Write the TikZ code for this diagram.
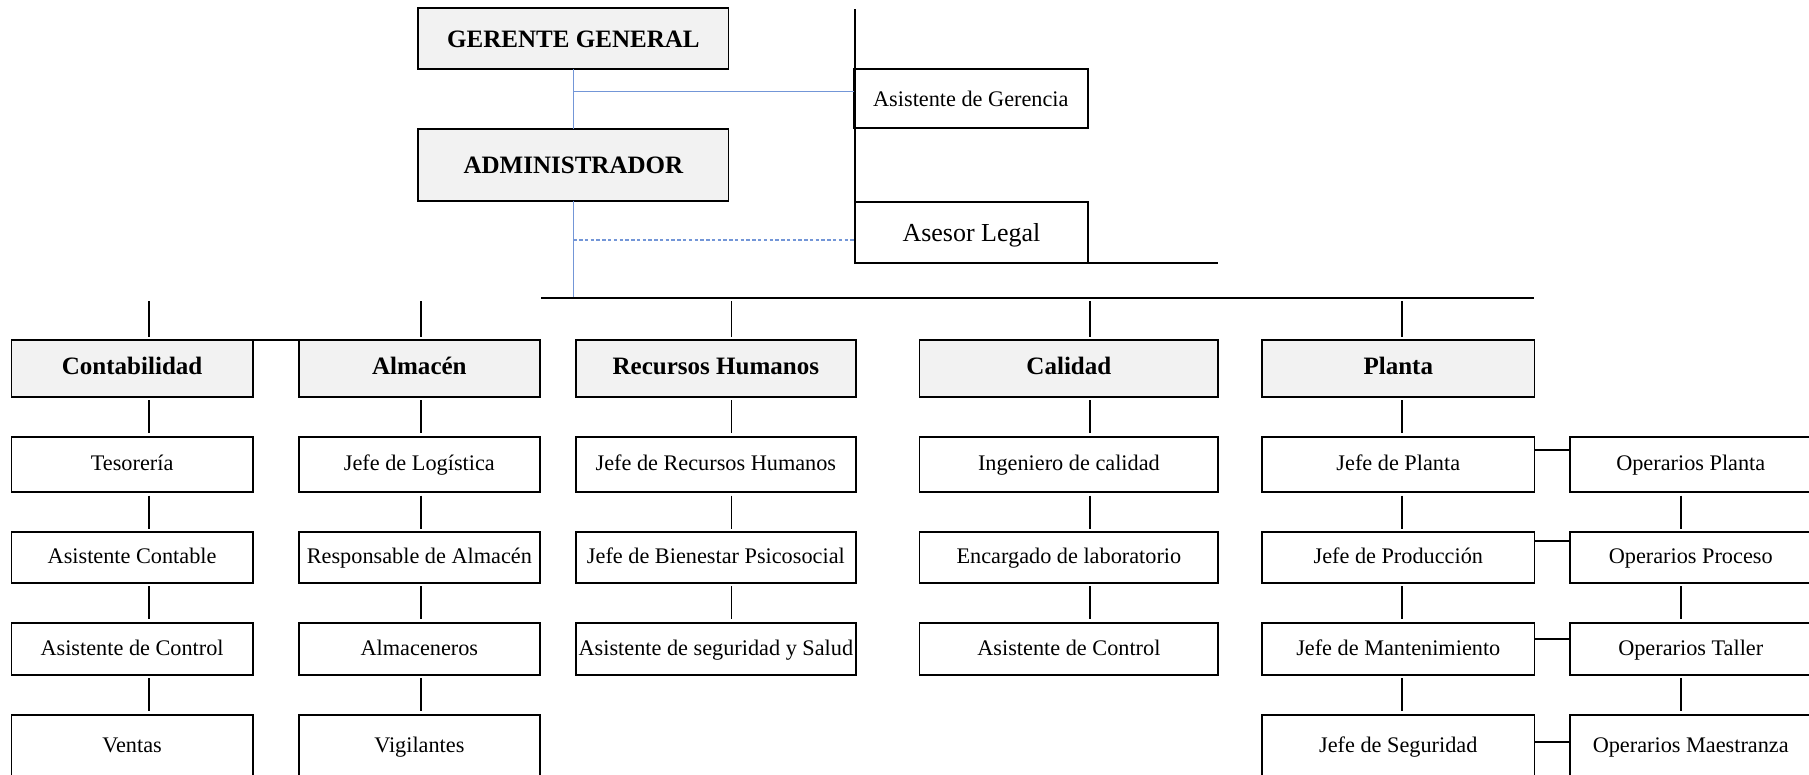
\documentclass[tikz,border=0pt]{standalone}
\usepackage{fontspec}
\setmainfont{Liberation Serif}
\usetikzlibrary{positioning, calc}
\definecolor{headColor}{RGB}{242,242,242}
\definecolor{linkColor}{RGB}{115,150,215}
\tikzset{unit/.style={draw, line width=1.6pt, inner sep=0pt, outer sep=0pt, minimum width=209, minimum height=46, text height=13pt, text depth=1.8pt, font=\fontsize{19.3}{23}\selectfont}}
\tikzset{head/.style={unit, fill=headColor, minimum height=49, text height=14.5pt, text depth=4.5pt, font=\fontsize{21.7}{26}\selectfont\bfseries}}
\tikzset{boss/.style={head, minimum width=269, text height=14.7pt, text depth=0pt}}
\tikzset{tick/.style={line width=1.6pt, shorten <=3pt, shorten >=3pt}}
\tikzset{side/.style={line width=1.6pt}}
\tikzset{link/.style={draw=linkColor, line width=1pt}}

\begin{document}
\begin{tikzpicture}[x=1pt, y=-1pt, node distance=34.6pt and 31pt]
	\useasboundingbox (0,0) rectangle (1568,671);
	\clip (0,0) rectangle (1568,671);
	% Nodes
		\node (gerente) [boss, minimum height=53] at (497,33.5) {GERENTE GENERAL};
		\node (admin) [boss, minimum height=62] at (497,143) {ADMINISTRADOR};
		\node (asistente) [unit, minimum width=203, minimum height=51, anchor=north west, text depth=0pt] at (740,60) {Asistente de Gerencia};
		\node (asesor) [unit, minimum width=202, minimum height=53, anchor=north west, text height=14.9pt, text depth=0pt, font=\fontsize{22.5}{27}\selectfont] at (741,175) {Asesor Legal};
		
		\coordinate (staffTop) at (741,8);
		\coordinate (staffEnd) at (1056,228);
		\coordinate (busLeft) at (469,258);
		\coordinate (busRight) at (1330,258);
		
		\node (conta) [head] at (114.5,319.5) {Contabilidad};
		\node (almacen) [head] at (363.5,319.5) {Almacén};
		\node (rrhh) [head, minimum width=243] at (620.5,319.5) {Recursos Humanos};
		\node (calidad) [head, minimum width=259] at (926.5,319.5) {Calidad};
		\node (planta) [head, minimum width=236] at (1212,319.5) {Planta};
		
		\node (tesoreria) [unit, below=of conta, minimum height=48] {Tesorería};
		\node (asiscont) [unit, below=of tesoreria, minimum height=44] {Asistente Contable};
		\node (asisctrl) [unit, below=of asiscont, minimum height=45] {Asistente de Control};
		\node (ventas) [unit, below=of asisctrl, minimum height=54] {Ventas};
		
		\node (logistica) [unit, below=of almacen, minimum height=48] {Jefe de Logística};
		\node (respalm) [unit, below=of logistica, minimum height=44] {Responsable de Almacén};
		\node (almaceneros) [unit, below=of respalm, minimum height=45] {Almaceneros};
		\node (vigilantes) [unit, below=of almaceneros, minimum height=54] {Vigilantes};
		
		\node (jeferrhh) [unit, minimum width=243, below=of rrhh, minimum height=48] {Jefe de Recursos Humanos};
		\node (bienestar) [unit, minimum width=243, below=of jeferrhh, minimum height=44] {Jefe de Bienestar Psicosocial};
		\node (seguridad) [unit, minimum width=243, below=of bienestar, minimum height=45] {Asistente de seguridad y Salud};
		
		\node (ingcalidad) [unit, minimum width=259, below=of calidad, minimum height=48] {Ingeniero de calidad};
		\node (laboratorio) [unit, minimum width=259, below=of ingcalidad, minimum height=44] {Encargado de laboratorio};
		\node (ctrlcalidad) [unit, minimum width=259, below=of laboratorio, minimum height=45] {Asistente de Control};
		
		\node (jplanta) [unit, minimum width=236, below=of planta, minimum height=48] {Jefe de Planta};
		\node (jprod) [unit, minimum width=236, below=of jplanta, minimum height=44] {Jefe de Producción};
		\node (jmant) [unit, minimum width=236, below=of jprod, minimum height=45] {Jefe de Mantenimiento};
		\node (jseg) [unit, minimum width=236, below=of jmant, minimum height=54] {Jefe de Seguridad};
		
		\node (opplanta) [unit, right=of jplanta, minimum height=48] {Operarios Planta};
		\node (opproceso) [unit, right=of jprod, minimum height=44] {Operarios Proceso};
		\node (optaller) [unit, right=of jmant, minimum height=45] {Operarios Taller};
		\node (opmaes) [unit, right=of jseg, minimum height=54] {Operarios Maestranza};
		
		% Connectors
		\draw [link] (gerente.south) -- (admin.north);
		\draw [link] ([yshift=-19pt]gerente.south) -- ([yshift=-19pt]gerente.south -| asistente.west);
		\draw [link, dash pattern=on 3pt off 2pt] ([yshift=-34pt]admin.south) -- ([yshift=-34pt]admin.south -| asesor.west);
		\draw [link] (admin.south) -- (admin.south |- busLeft);
		
		\draw [side] (staffTop) -- (asesor.north west);
		\draw [side] (asesor.south east) -- (staffEnd);
		\draw [side] (busLeft) -- (busRight);
		\draw [side] (conta.north east) -- (almacen.north west);
		
		\draw [tick] ([xshift=14.5pt]conta.north) -- ([xshift=14.5pt]conta.north |- busLeft);
		\draw [tick] ([xshift=1.5pt]almacen.north) -- ([xshift=1.5pt]almacen.north |- busLeft);
		\draw [tick] ([xshift=13.5pt]rrhh.north) -- ([xshift=13.5pt]rrhh.north |- busLeft);
		\draw [tick] ([xshift=18.5pt]calidad.north) -- ([xshift=18.5pt]calidad.north |- busLeft);
		\draw [tick] ([xshift=3pt]planta.north) -- ([xshift=3pt]planta.north |- busLeft);
		
		\draw [tick] ([xshift=14.5pt]conta.south) -- ([xshift=14.5pt]tesoreria.north);
		\draw [tick] ([xshift=14.5pt]tesoreria.south) -- ([xshift=14.5pt]asiscont.north);
		\draw [tick] ([xshift=14.5pt]asiscont.south) -- ([xshift=14.5pt]asisctrl.north);
		\draw [tick] ([xshift=14.5pt]asisctrl.south) -- ([xshift=14.5pt]ventas.north);
		
		\draw [tick] ([xshift=1.5pt]almacen.south) -- ([xshift=1.5pt]logistica.north);
		\draw [tick] ([xshift=1.5pt]logistica.south) -- ([xshift=1.5pt]respalm.north);
		\draw [tick] ([xshift=1.5pt]respalm.south) -- ([xshift=1.5pt]almaceneros.north);
		\draw [tick] ([xshift=1.5pt]almaceneros.south) -- ([xshift=1.5pt]vigilantes.north);
		
		\draw [tick] ([xshift=13.5pt]rrhh.south) -- ([xshift=13.5pt]jeferrhh.north);
		\draw [tick] ([xshift=13.5pt]jeferrhh.south) -- ([xshift=13.5pt]bienestar.north);
		\draw [tick] ([xshift=13.5pt]bienestar.south) -- ([xshift=13.5pt]seguridad.north);
		
		\draw [tick] ([xshift=18.5pt]calidad.south) -- ([xshift=18.5pt]ingcalidad.north);
		\draw [tick] ([xshift=18.5pt]ingcalidad.south) -- ([xshift=18.5pt]laboratorio.north);
		\draw [tick] ([xshift=18.5pt]laboratorio.south) -- ([xshift=18.5pt]ctrlcalidad.north);
		
		\draw [tick] ([xshift=3pt]planta.south) -- ([xshift=3pt]jplanta.north);
		\draw [tick] ([xshift=3pt]jplanta.south) -- ([xshift=3pt]jprod.north);
		\draw [tick] ([xshift=3pt]jprod.south) -- ([xshift=3pt]jmant.north);
		\draw [tick] ([xshift=3pt]jmant.south) -- ([xshift=3pt]jseg.north);
		
		\draw [tick] ([xshift=-8.5pt]opplanta.south) -- ([xshift=-8.5pt]opproceso.north);
		\draw [tick] ([xshift=-8.5pt]opproceso.south) -- ([xshift=-8.5pt]optaller.north);
		\draw [tick] ([xshift=-8.5pt]optaller.south) -- ([xshift=-8.5pt]opmaes.north);
		
		\draw [side] ([yshift=-11.5pt]jplanta.north east) -- ([yshift=-11.5pt]opplanta.north west);
		\draw [side] ([yshift=-8pt]jprod.north east) -- ([yshift=-8pt]opproceso.north west);
		\draw [side] ([yshift=-14pt]jmant.north east) -- ([yshift=-14pt]optaller.north west);
		\draw [side] ([yshift=-24pt]jseg.north east) -- ([yshift=-24pt]opmaes.north west);

\end{tikzpicture}
\end{document}
